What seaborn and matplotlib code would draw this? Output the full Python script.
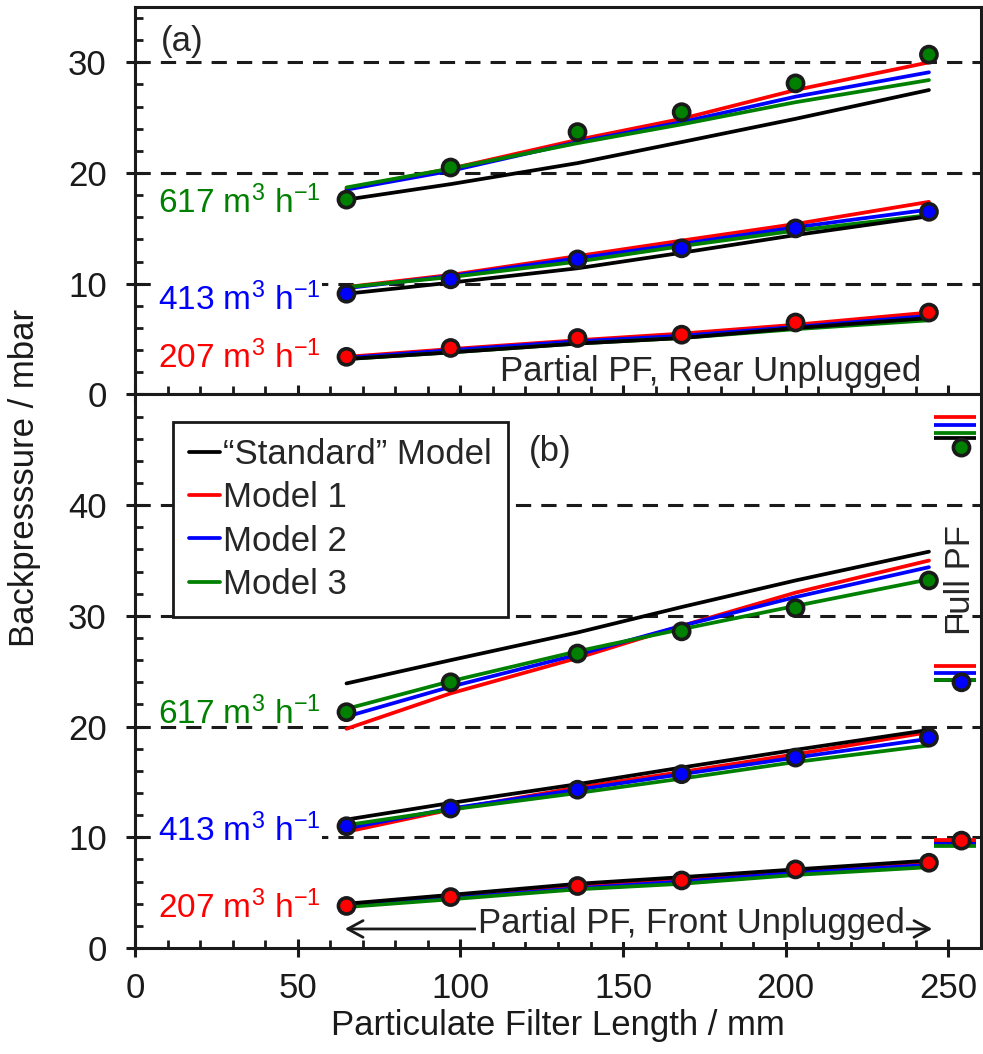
import numpy as np
import pandas as pd
import matplotlib
matplotlib.use("Agg")
import matplotlib.pyplot as plt
from matplotlib.lines import Line2D
import seaborn as sns

# ---------------- data ----------------
lengths = [65, 97, 136, 168, 203, 244]
full_len = 254
flows = ["207", "413", "617"]
models = ["Model 1", "Model 2", "Model 3", "\u201cStandard\u201d Model"]

# panel (a): Partial PF, rear unplugged -- measured
a_meas_207 = [3.4, 4.2, 5.1, 5.4, 6.5, 7.4]
a_meas_413 = [9.1, 10.4, 12.2, 13.2, 15.0, 16.5]
a_meas_617 = [17.6, 20.5, 23.7, 25.5, 28.1, 30.7]
# panel (a) model predictions
a_std_207 = [3.2, 3.8, 4.6, 5.1, 6.0, 6.9]
a_m1_207 = [3.4, 4.1, 4.9, 5.5, 6.3, 7.4]
a_m2_207 = [3.3, 4.0, 4.8, 5.3, 6.1, 7.1]
a_m3_207 = [3.2, 3.8, 4.6, 5.1, 5.9, 6.7]
a_std_413 = [9.1, 10.1, 11.4, 12.8, 14.4, 16.1]
a_m1_413 = [9.7, 10.8, 12.5, 13.9, 15.4, 17.4]
a_m2_413 = [9.6, 10.7, 12.3, 13.6, 15.1, 16.7]
a_m3_413 = [9.7, 10.6, 12.0, 13.4, 14.8, 16.2]
a_std_617 = [17.6, 19.0, 20.9, 22.8, 24.9, 27.5]
a_m1_617 = [18.6, 20.4, 23.0, 24.9, 27.5, 30.0]
a_m2_617 = [18.5, 20.2, 22.8, 24.6, 26.9, 29.1]
a_m3_617 = [18.7, 20.4, 22.7, 24.4, 26.4, 28.4]

# panel (b): Partial PF, front unplugged -- measured
b_meas_207 = [3.8, 4.6, 5.6, 6.1, 7.1, 7.7]
b_meas_413 = [11.0, 12.6, 14.3, 15.7, 17.2, 19.0]
b_meas_617 = [21.3, 24.0, 26.6, 28.6, 30.7, 33.2]
# full PF measured (207, 413, 617)
full_meas = [9.7, 24.0, 45.2]
# panel (b) model predictions
b_std_207 = [4.0, 4.8, 5.8, 6.4, 7.1, 7.9]
b_m1_207 = [3.9, 4.7, 5.6, 6.2, 7.0, 7.8]
b_m2_207 = [3.8, 4.5, 5.4, 6.0, 6.8, 7.5]
b_m3_207 = [3.7, 4.4, 5.3, 5.8, 6.6, 7.3]
b_std_413 = [11.6, 13.1, 14.8, 16.3, 17.9, 19.7]
b_m1_413 = [10.5, 12.5, 14.5, 15.9, 17.5, 19.5]
b_m2_413 = [10.8, 12.6, 14.3, 15.7, 17.2, 18.9]
b_m3_413 = [11.1, 12.5, 14.0, 15.3, 16.8, 18.3]
b_std_617 = [23.9, 26.0, 28.5, 30.8, 33.2, 35.8]
b_m1_617 = [19.8, 23.0, 26.2, 29.1, 32.1, 35.0]
b_m2_617 = [20.9, 23.6, 26.5, 29.1, 31.7, 34.4]
b_m3_617 = [21.6, 24.1, 26.8, 28.8, 30.9, 33.3]
# full PF model predictions (207, 413, 617)
full_std = [9.45, 24.2, 46.1]
full_m1 = [9.8, 25.5, 48.0]
full_m2 = [9.35, 24.8, 47.2]
full_m3 = [9.2, 24.25, 46.5]

flow_labels = ["207 m$^3$ h$^{-1}$", "413 m$^3$ h$^{-1}$", "617 m$^3$ h$^{-1}$"]

# ---------------- style ----------------
sns.set_theme(style="ticks")
plt.rcParams["font.family"] = ["Liberation Sans", "DejaVu Sans"]
plt.rcParams["mathtext.default"] = "regular"
plt.rcParams["axes.linewidth"] = 2.2

flow_colors = {"207": "#ff0000", "413": "#0000ff", "617": "#008000"}
model_colors = {"Model 1": "#ff0000", "Model 2": "#0000ff", "Model 3": "#008000",
                "\u201cStandard\u201d Model": "#000000"}
FS = 25
LW = 2.7
MS = 135
MEW = 2.6


def model_df(d):
    rows = []
    for (flow, model), vals in d.items():
        for x, y in zip(lengths, vals):
            rows.append({"x": x, "y": y, "flow": flow, "model": model})
    return pd.DataFrame(rows)


def meas_df(d):
    rows = []
    for flow, vals in d.items():
        for x, y in zip(lengths, vals):
            rows.append({"x": x, "y": y, "flow": flow})
    return pd.DataFrame(rows)


a_models = model_df({
    ("207", models[0]): a_m1_207, ("207", models[1]): a_m2_207, ("207", models[2]): a_m3_207, ("207", models[3]): a_std_207,
    ("413", models[0]): a_m1_413, ("413", models[1]): a_m2_413, ("413", models[2]): a_m3_413, ("413", models[3]): a_std_413,
    ("617", models[0]): a_m1_617, ("617", models[1]): a_m2_617, ("617", models[2]): a_m3_617, ("617", models[3]): a_std_617,
})
b_models = model_df({
    ("207", models[0]): b_m1_207, ("207", models[1]): b_m2_207, ("207", models[2]): b_m3_207, ("207", models[3]): b_std_207,
    ("413", models[0]): b_m1_413, ("413", models[1]): b_m2_413, ("413", models[2]): b_m3_413, ("413", models[3]): b_std_413,
    ("617", models[0]): b_m1_617, ("617", models[1]): b_m2_617, ("617", models[2]): b_m3_617, ("617", models[3]): b_std_617,
})
a_meas = meas_df({"207": a_meas_207, "413": a_meas_413, "617": a_meas_617})
b_meas = meas_df({"207": b_meas_207, "413": b_meas_413, "617": b_meas_617})
full_meas_df = pd.DataFrame({"x": [full_len] * 3, "y": full_meas, "flow": flows})

fig = plt.figure(figsize=(9.83, 10.54), dpi=100)
gs = fig.add_gridspec(2, 1, height_ratios=[35, 50], hspace=0,
                      left=135 / 983, right=981 / 983, top=1 - 7 / 1054, bottom=1 - 948 / 1054)
ax_a = fig.add_subplot(gs[0])
ax_b = fig.add_subplot(gs[1], sharex=ax_a)

for ax, mdf, sdf, ymax, yticks in [(ax_a, a_models, a_meas, 35, [0, 10, 20, 30]),
                                    (ax_b, b_models, b_meas, 50, [0, 10, 20, 30, 40])]:
    for g in yticks[1:]:
        ax.axhline(g, color="k", lw=2.2, ls=(0, (5, 3.3)), zorder=0.5)
    sns.lineplot(data=mdf, x="x", y="y", hue="model", units="flow", estimator=None,
                 hue_order=models, palette=model_colors, lw=LW, legend=False, sort=False, ax=ax, zorder=2)
    sns.scatterplot(data=sdf, x="x", y="y", hue="flow", palette=flow_colors, s=MS,
                    edgecolor="k", linewidth=MEW, legend=False, ax=ax, zorder=5)
    ax.set_xlim(0, 260)
    ax.set_ylim(0, ymax)
    ax.set_yticks(yticks)
    ax.set_yticks(np.arange(2, ymax, 2), minor=True)
    ax.set_xticks([0, 50, 100, 150, 200, 250])
    ax.set_xticks(np.arange(10, 260, 10), minor=True)
    ax.tick_params(which="major", direction="inout", length=12.5, width=2.2, labelsize=FS,
                   top=False, right=False, color="k", labelcolor="k")
    ax.tick_params(which="minor", direction="in", length=6, width=2.0, top=False, right=False, color="k")
    ax.tick_params(axis="y", which="major", pad=14)
    ax.tick_params(axis="x", which="major", pad=11)
    ax.set_xlabel("")
    ax.set_ylabel("")
    for s in ax.spines.values():
        s.set_color("k")
        s.set_linewidth(2.2)

ax_a.tick_params(axis="x", labelbottom=False)

# full PF: horizontal model bars + points
for vals, col in [(full_std, "#000000"), (full_m1, "#ff0000"), (full_m2, "#0000ff"), (full_m3, "#008000")]:
    ax_b.hlines(vals, 245.5, 258.5, colors=col, lw=LW, zorder=3)
sns.scatterplot(data=full_meas_df, x="x", y="y", hue="flow", palette=flow_colors, s=MS,
                edgecolor="k", linewidth=MEW, legend=False, ax=ax_b, zorder=6)
ax_b.set_xlabel("")
ax_b.set_ylabel("")

# flow labels
a_lab_y = [2.4, 7.66, 16.37]
b_lab_y = [2.69, 9.62, 20.18]
for ax, ys in [(ax_a, a_lab_y), (ax_b, b_lab_y)]:
    for f, lab, y in zip(flows, flow_labels, ys):
        kw = {}
        if f == "413":
            kw["bbox"] = dict(facecolor="white", edgecolor="none", pad=0.5)
        ax.text(7.2, y, lab, color=flow_colors[f], fontsize=24, ha="left", va="baseline", zorder=1, **kw)

ax_a.text(7.8, 31.0, "(a)", fontsize=FS, ha="left", va="baseline")
ax_b.text(121.2, 44.0, "(b)", fontsize=FS, ha="left", va="baseline")
ax_b.text(253.6, 33.2, "Full PF", fontsize=FS, rotation=90, ha="center", va="center")

ax_a.text(241.7, 1.2, "Partial PF, Rear Unplugged", fontsize=FS, ha="right", va="baseline")

ax_b.annotate("", xy=(64.5, 1.72), xytext=(245, 1.72),
              arrowprops=dict(arrowstyle="<->, head_length=0.55, head_width=0.3",
                              lw=2.0, color="k", shrinkA=0, shrinkB=0, mutation_scale=20), zorder=3)
ax_b.text(105.3, 1.33, "Partial PF, Front Unplugged", fontsize=FS, ha="left", va="baseline",
          bbox=dict(facecolor="white", edgecolor="none", pad=1), zorder=4)

handles = [Line2D([], [], color=model_colors[m], lw=LW) for m in [models[3], models[0], models[1], models[2]]]
labels = [models[3], models[0], models[1], models[2]]
leg = ax_b.legend(handles, labels, loc="upper left", bbox_to_anchor=(0.045, 0.95), borderaxespad=0,
                  fontsize=FS, frameon=True, fancybox=False, framealpha=1, edgecolor="k",
                  handlelength=0.9, handletextpad=0.1, labelspacing=0.3, borderpad=0.45)
leg.get_frame().set_linewidth(2.0)
leg.set_zorder(10)

ax_b.set_xlabel("Particulate Filter Length / mm", fontsize=FS, labelpad=3, color="k")
fig.text(25 / 983, 1 - 478 / 1054, "Backpresssure / mbar", fontsize=FS, rotation=90,
         ha="center", va="center", color="k")

fig.savefig("out.png", dpi=100, facecolor="white")
